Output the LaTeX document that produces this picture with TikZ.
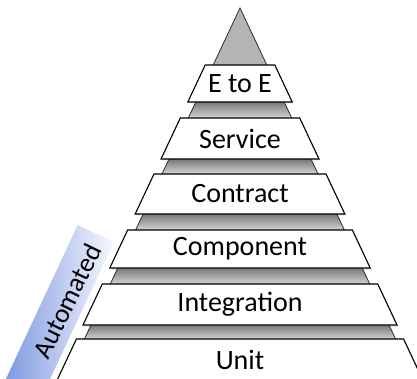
\documentclass[tikz,border=0pt]{standalone}
\usepackage{fontspec}
\setmainfont{Carlito}
\usetikzlibrary{shadows}
\definecolor{autoblue}{RGB}{118,146,222}
\definecolor{autowhite}{RGB}{246,248,255}
\definecolor{trigray}{RGB}{180,180,180}
\definecolor{gaptop}{RGB}{120,120,120}
\definecolor{gapbot}{RGB}{212,212,212}
\begin{document}
\begin{tikzpicture}[x=1pt,y=-1pt,
  bandline/.style={draw=black, line width=1.1pt, fill=white, line join=miter,
    drop shadow={opacity=0.3, shadow xshift=1.5pt, shadow yshift=-1.5pt}},
  lbl/.style={font=\fontsize{28}{32}\selectfont, inner sep=0pt}
]
\useasboundingbox (0,0) rectangle (417,379);
\clip (0,0) rectangle (417,379);
% Automated band (behind the pyramid)
\node[rotate=65, minimum width=193pt, minimum height=40pt, inner sep=0pt,
      left color=autoblue, right color=autowhite] (autoband) at (55,321) {};
\node[lbl, rotate=64, font=\fontsize{27}{31}\selectfont] (autotext) at (67,301) {Automated};
% gray triangle
\coordinate (apex) at (240,8);
\fill[trigray] (apex) -- ({240-0.47*391},399) -- ({240+0.47*391},399) -- cycle;
\foreach \a/\b in {102/118,159/174,214/230,268/284,325/339}{
  \shade[top color=gaptop, bottom color=gapbot]
    ({240-0.47*(\a-8)},\a) -- ({240+0.47*(\a-8)},\a) --
    ({240+0.47*(\b-8)},\b) -- ({240-0.47*(\b-8)},\b) -- cycle;
}
\draw[gray!35!black, line width=0.8pt] ({240-0.47*391},399) -- (apex) -- ({240+0.47*391},399);
% bands
\foreach \t/\b/\nm/\txt/\ty in {65/102/e2e/E to E/83.5, 118/159/service/Service/138.5,
    174/214/contract/Contract/194, 230/268/component/Component/249,
    284/325/integration/Integration/304.5, 339/385/unit/Unit/360}{
  \path[bandline] ({240-(8+0.47*(\t-8))},\t) -- ({240+(8+0.47*(\t-8))},\t) --
    ({240+(8+0.47*(\b-8))},\b) -- ({240-(8+0.47*(\b-8))},\b) -- cycle;
  \node[lbl] (\nm) at (240,\ty) {\txt};
}
\end{tikzpicture}
\end{document}
